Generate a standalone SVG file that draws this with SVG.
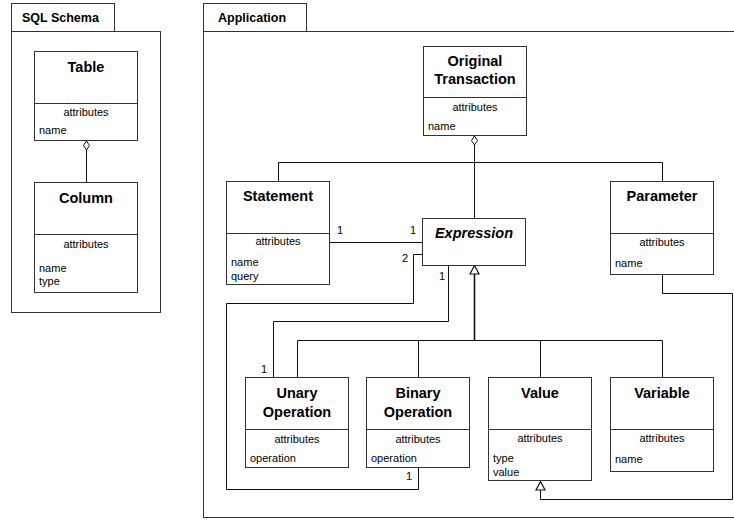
<svg xmlns="http://www.w3.org/2000/svg" width="734" height="521" viewBox="0 0 734 521">
<defs>
<style>
.pkg{fill:#fff;stroke:#333;stroke-width:1}
.box{fill:#fff;stroke:#333;stroke-width:1}
.div{stroke:#333;stroke-width:1}
.ptitle{font-family:"Liberation Sans",Arial,sans-serif;font-size:12.5px;font-weight:bold;fill:#000}
.cname{font-family:"Liberation Sans",Arial,sans-serif;font-size:14.5px;font-weight:bold;fill:#000;text-anchor:middle}
.attr{font-family:"Liberation Sans",Arial,sans-serif;font-size:11px;fill:#000;text-anchor:middle}
.item{font-family:"Liberation Sans",Arial,sans-serif;font-size:11px;fill:#000}
.lbl{font-family:"Liberation Sans",Arial,sans-serif;font-size:11px;fill:#000;text-anchor:middle}
.ln{fill:none;stroke:#111;stroke-width:1}
.trunk{fill:none;stroke:#111;stroke-width:1.6}
.dia{fill:#fff;stroke:#111;stroke-width:1}
.tri{fill:#fff;stroke:#111;stroke-width:1.2}
</style>
</defs>
<rect width="734" height="521" fill="#fff"/>

<g id="pkg-sql">
<rect class="pkg" x="11.5" y="31.5" width="149" height="281"/>
<rect class="pkg" x="11.5" y="3.5" width="103" height="28"/>
<text class="ptitle" x="22" y="22">SQL Schema</text>
</g>

<g id="pkg-app">
<rect class="pkg" x="203.5" y="31.5" width="540" height="486"/>
<rect class="pkg" x="203.5" y="3.5" width="103" height="28"/>
<text class="ptitle" x="218" y="22">Application</text>
</g>

<g id="connectors">
<polyline class="ln" points="86.5,182 86.5,150"/>
<polygon class="dia" points="86.5,141 89.5,145.5 86.5,150 83.5,145.5"/>
<polyline class="ln" points="474.5,145 474.5,218"/>
<polygon class="dia" points="474.5,136 477.5,140.5 474.5,145 471.5,140.5"/>
<polyline class="ln" points="278.5,181 278.5,162.5 662.5,162.5 662.5,181"/>
<polyline class="ln" points="330,242.5 422,242.5"/>
<polyline class="ln" points="422,254.5 413.5,254.5 413.5,303.5 226.5,303.5 226.5,489.5 418.5,489.5 418.5,467"/>
<polyline class="ln" points="448.5,265 448.5,321.5 273.5,321.5 273.5,378"/>
<polyline class="trunk" points="474.5,274 474.5,340.5"/>
<polyline class="ln" points="297.5,378 297.5,340.5 662.5,340.5 662.5,378"/>
<polyline class="ln" points="418.5,340.5 418.5,378"/>
<polyline class="ln" points="540.5,340.5 540.5,378"/>
<polygon class="tri" points="474.5,265.5 479,274 470,274"/>
<polyline class="ln" points="662.5,274 662.5,293.5 732.5,293.5 732.5,499.5 540.5,499.5 540.5,490"/>
<polygon class="tri" points="540.5,481.5 545,490 536,490"/>
<text class="lbl" x="340" y="234">1</text>
<text class="lbl" x="413" y="234">1</text>
<text class="lbl" x="405" y="262">2</text>
<text class="lbl" x="442" y="280">1</text>
<text class="lbl" x="264" y="373">1</text>
<text class="lbl" x="409" y="480">1</text>
</g>

<g id="table">
<rect class="box" x="34.5" y="51.5" width="103" height="89"/>
<line class="div" x1="34.5" y1="103.5" x2="137.5" y2="103.5"/>
<text class="cname" x="86" y="72">Table</text>
<text class="attr" x="86" y="116">attributes</text>
<text class="item" x="39" y="134">name</text>
</g>

<g id="column">
<rect class="box" x="34.5" y="182.5" width="103" height="110"/>
<line class="div" x1="34.5" y1="234.5" x2="137.5" y2="234.5"/>
<text class="cname" x="86" y="203">Column</text>
<text class="attr" x="86" y="248">attributes</text>
<text class="item" x="39" y="272">name</text>
<text class="item" x="39" y="285">type</text>
</g>

<g id="original-transaction">
<rect class="box" x="423.5" y="46.5" width="103" height="89"/>
<line class="div" x1="423.5" y1="97.5" x2="526.5" y2="97.5"/>
<text class="cname" x="475" y="66">Original</text>
<text class="cname" x="475" y="84">Transaction</text>
<text class="attr" x="475" y="111">attributes</text>
<text class="item" x="428" y="130">name</text>
</g>

<g id="statement">
<rect class="box" x="226.5" y="181.5" width="103" height="103"/>
<line class="div" x1="226.5" y1="233.5" x2="329.5" y2="233.5"/>
<text class="cname" x="278" y="201">Statement</text>
<text class="attr" x="278" y="245">attributes</text>
<text class="item" x="231" y="266">name</text>
<text class="item" x="231" y="280">query</text>
</g>

<g id="expression">
<rect class="box" x="422.5" y="218.5" width="103" height="47"/>
<text class="cname" x="474" y="238" font-style="italic">Expression</text>
</g>

<g id="parameter">
<rect class="box" x="610.5" y="181.5" width="103" height="93"/>
<line class="div" x1="610.5" y1="233.5" x2="713.5" y2="233.5"/>
<text class="cname" x="662" y="201">Parameter</text>
<text class="attr" x="662" y="246">attributes</text>
<text class="item" x="615" y="267">name</text>
</g>

<g id="unary-operation">
<rect class="box" x="245.5" y="377.5" width="103" height="90"/>
<line class="div" x1="245.5" y1="429.5" x2="348.5" y2="429.5"/>
<text class="cname" x="297" y="398">Unary</text>
<text class="cname" x="297" y="417">Operation</text>
<text class="attr" x="297" y="443">attributes</text>
<text class="item" x="250" y="462">operation</text>
</g>

<g id="binary-operation">
<rect class="box" x="366.5" y="377.5" width="103" height="90"/>
<line class="div" x1="366.5" y1="429.5" x2="469.5" y2="429.5"/>
<text class="cname" x="418" y="398">Binary</text>
<text class="cname" x="418" y="417">Operation</text>
<text class="attr" x="418" y="443">attributes</text>
<text class="item" x="371" y="462">operation</text>
</g>

<g id="value">
<rect class="box" x="488.5" y="377.5" width="103" height="103"/>
<line class="div" x1="488.5" y1="429.5" x2="591.5" y2="429.5"/>
<text class="cname" x="540" y="398">Value</text>
<text class="attr" x="540" y="442">attributes</text>
<text class="item" x="493" y="462">type</text>
<text class="item" x="493" y="476">value</text>
</g>

<g id="variable">
<rect class="box" x="610.5" y="377.5" width="103" height="94"/>
<line class="div" x1="610.5" y1="429.5" x2="713.5" y2="429.5"/>
<text class="cname" x="662" y="398">Variable</text>
<text class="attr" x="662" y="442">attributes</text>
<text class="item" x="615" y="463">name</text>
</g>
</svg>
